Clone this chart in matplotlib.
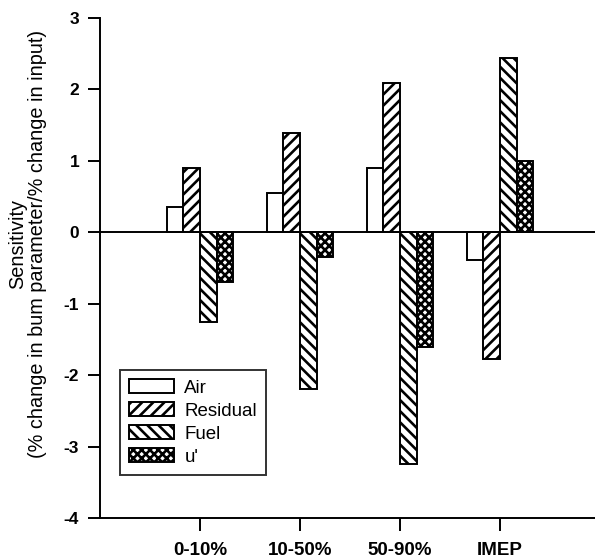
import numpy as np
import matplotlib
matplotlib.use("Agg")
import matplotlib.pyplot as plt

plt.rcParams['font.family'] = ['Liberation Sans', 'DejaVu Sans']
plt.rcParams['hatch.linewidth'] = 1.9

# burn parameter groups and their sensitivities to each input
groups = ['0-10%', '10-50%', '50-90%', 'IMEP']
air = [0.36, 0.55, 0.90, -0.39]
residual = [0.90, 1.39, 2.09, -1.78]
fuel = [-1.25, -2.20, -3.24, 2.44]
u_prime = [-0.70, -0.35, -1.60, 1.00]

series = [('Air', air, ''), ('Residual', residual, '///'),
          ('Fuel', fuel, '\\\\\\'), ("u'", u_prime, 'xxxx')]

fig = plt.figure(figsize=(5.95, 5.59), dpi=100)
ax = fig.add_axes([0.168, 0.0733, 0.832, 0.8945])

x = np.arange(1, len(groups) + 1)
w = 1 / 6
for i, (name, vals, hatch) in enumerate(series):
    ax.bar(x + (i - 1.5) * w, vals, w, color='white', edgecolor='black',
           linewidth=1.4, hatch=hatch, label=name, zorder=2)

ax.axhline(0, color='black', linewidth=1.4, zorder=3)

ax.set_xlim(0, 4.95)
ax.set_ylim(-4, 3)
ax.set_xticks(x)
ax.set_xticklabels(groups, fontsize=13.5, fontweight='bold')
ax.set_yticks(range(-4, 4))
ax.set_yticklabels([str(v) for v in range(-4, 4)], fontsize=12.5, fontweight='bold')
ax.tick_params(axis='both', direction='out', length=9, width=1.4, pad=6)
ax.tick_params(axis='x', pad=8)

for s in ['top', 'right']:
    ax.spines[s].set_visible(False)
for s in ['left', 'bottom']:
    ax.spines[s].set_linewidth(1.4)

ax.set_ylabel('Sensitivity\n(% change in bum parameter/% change in input)',
              fontsize=14.3, linespacing=1.05)
ax.yaxis.set_label_coords(-0.107, 0.548)

leg = ax.legend(loc='lower left', bbox_to_anchor=(0.04, 0.086), fontsize=13.5,
                frameon=True, fancybox=False, edgecolor='black',
                handlelength=2.4, handleheight=0.75, borderpad=0.5,
                labelspacing=0.3, handletextpad=0.55, borderaxespad=0)
leg.get_frame().set_linewidth(1.4)

fig.savefig('out.png', dpi=100)
